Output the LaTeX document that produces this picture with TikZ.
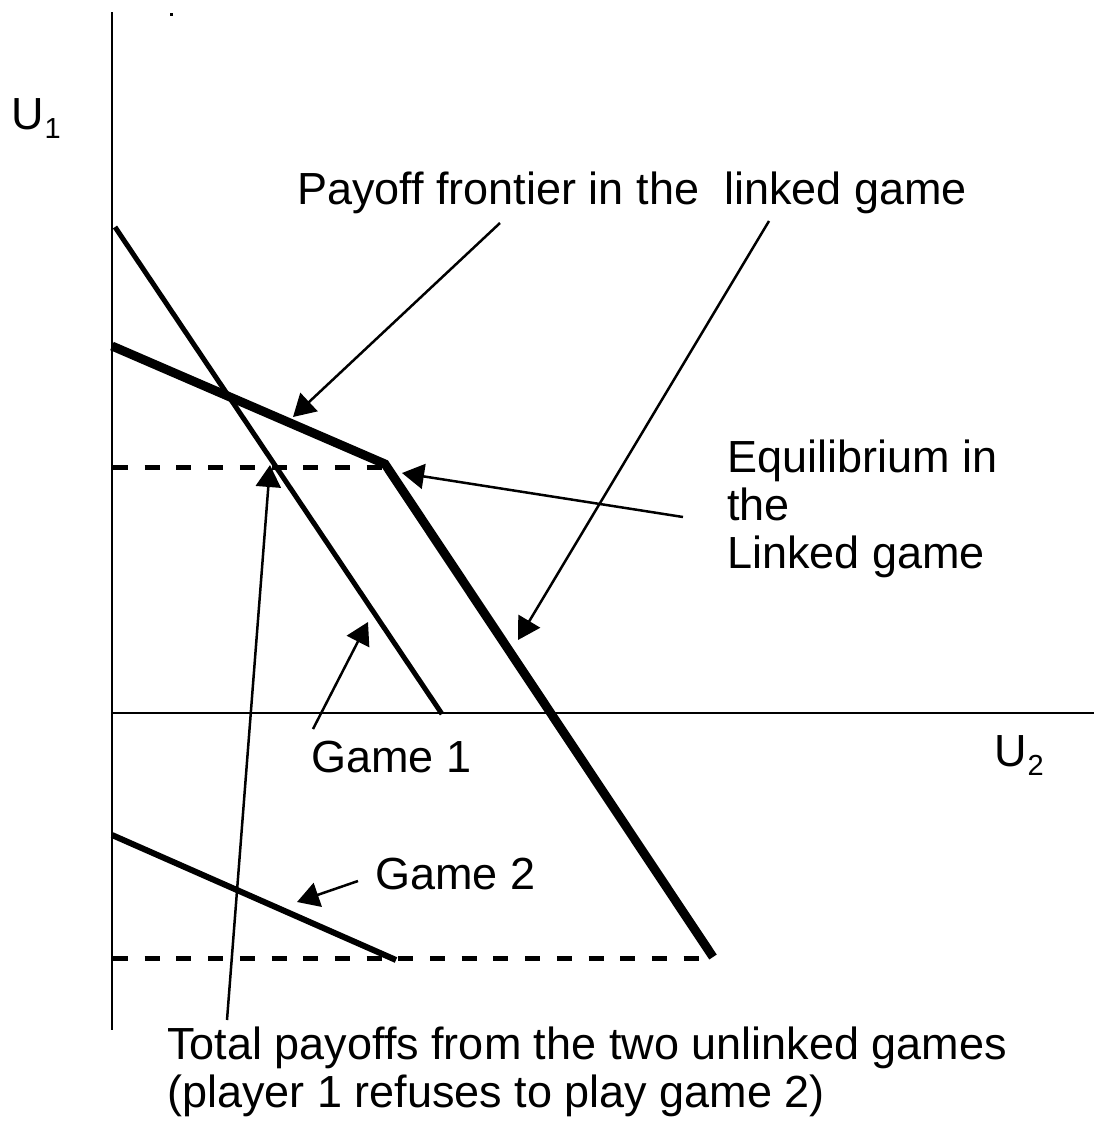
\documentclass[tikz,border=0pt]{standalone}
\usepackage{fontspec}
\setmainfont{Liberation Sans}
\usetikzlibrary{arrows.meta}
\begin{document}
\begin{tikzpicture}[x=1pt,y=-1pt,
  axis/.style={line width=2.5pt},
  thinpay/.style={line width=5pt},
  gametwo/.style={line width=6pt},
  thickpay/.style={line width=9pt, line join=miter},
  guide/.style={line width=5pt, dash pattern=on 15pt off 16.7pt},
  pointer/.style={line width=2.5pt, -{Triangle[length=22pt,width=25pt]}},
  lbl/.style={inner sep=0pt, anchor=base west, font=\fontsize{45}{48}\selectfont, align=left}]
\useasboundingbox (0,0) rectangle (1094,1122);

% key points
\coordinate (ytop) at (112,12);
\coordinate (ybot) at (112,1030);
\coordinate (xl) at (112,713);
\coordinate (xr) at (1094,713);
\coordinate (g1a) at (115,227);
\coordinate (g1b) at (442,714);
\coordinate (lfa) at (112,346);
\coordinate (eq) at (385,464);
\coordinate (lfb) at (713,957);
\coordinate (g2a) at (112,835);
\coordinate (g2b) at (396,960);
\coordinate (d1a) at (113,467);
\coordinate (d1b) at (385,467);
\coordinate (d2a) at (113,958);
\coordinate (d2b) at (713,958);

% axes
\draw[axis] (ytop) -- (ybot);
\draw[axis] (xl) -- (xr);
\fill (169.5,12.5) rectangle (173,15.5);

% dashed guides
\draw[guide] (d1a) -- (d1b);
\draw[guide] (d2a) -- (d2b);

% payoff lines
\draw[thinpay] (g1a) -- (g1b);
\draw[thickpay] (lfa) -- (eq) -- (lfb);
\draw[gametwo] (g2a) -- (g2b);

% labels (base anchor of a multi-line node = last line)
\node[lbl] (u1) at (11,129) {U\kern1pt\raisebox{-9pt}{\fontsize{29}{29}\selectfont 1}};
\node[lbl] (u2) at (994,766) {U\kern1pt\raisebox{-9pt}{\fontsize{29}{29}\selectfont 2}};
\node[lbl] (pf) at (297,204) {Payoff frontier in the\ \ linked game};
\node[lbl] (eqt) at (727,568) {Equilibrium in\\the\\Linked game};
\node[lbl] (gm1) at (311,772) {Game 1};
\node[lbl] (gm2) at (375,889) {Game 2};
\node[lbl] (tot) at (167,1107) {Total payoffs from the two unlinked games\\(player 1 refuses to play game 2)};

% arrow ends
\coordinate (s1) at (500,223);
\coordinate (t1) at (293,417);
\coordinate (s2) at (769,221);
\coordinate (t2) at (518,640);
\coordinate (s3) at (683,517);
\coordinate (t3) at (402,473);
\coordinate (s4) at (227,1020);
\coordinate (t4) at (270,465);
\coordinate (s5) at (313,729);
\coordinate (t5) at (368,622);
\coordinate (s6) at (358,881);
\coordinate (t6) at (297,902);

\draw[pointer] (s1) -- (t1);
\draw[pointer] (s2) -- (t2);
\draw[pointer] (s3) -- (t3);
\draw[pointer] (s4) -- (t4);
\draw[pointer] (s5) -- (t5);
\draw[pointer] (s6) -- (t6);
\end{tikzpicture}
\end{document}
